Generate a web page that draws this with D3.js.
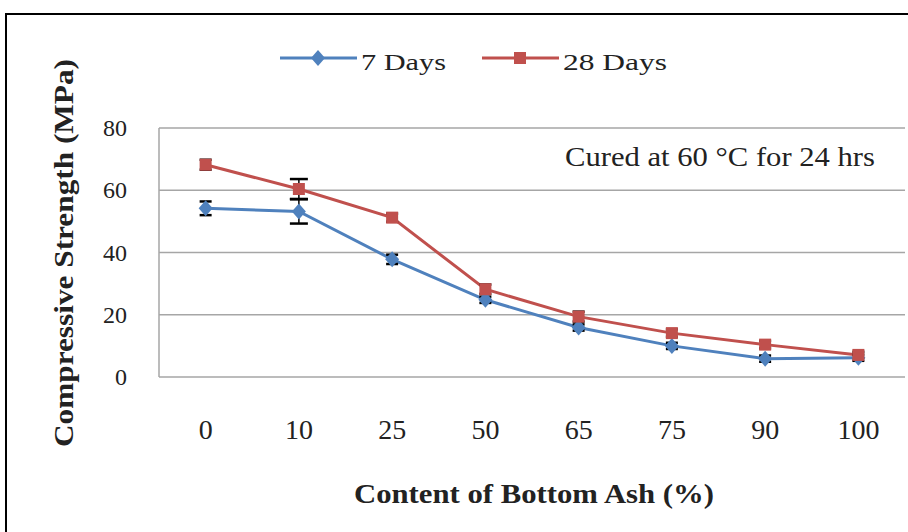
<!DOCTYPE html>
<html><head><meta charset="utf-8">
<script src="https://cdn.jsdelivr.net/npm/d3@7"></script>
<style>body{margin:0;background:#fff}svg{display:block}text{font-family:"Liberation Serif","Times New Roman",serif}</style>
</head><body><svg id="c" width="908" height="532"></svg>
<script>
const categories = ["0","10","25","50","65","75","90","100"];
const days7 = [54.2, 53.2, 37.8, 24.8, 15.9, 10.0, 5.9, 6.2];
const days28 = [68.2, 60.4, 51.2, 28.2, 19.4, 14.1, 10.4, 7.1];
const err7 = [2.2, 3.9, 1.5, 1.0, 1.0, 1.0, 1.0, 1.0];
const err28 = [1.6, 3.2, 1.3, 1.5, 1.6, 1.2, 1.2, 1.0];
const yTicks = [0, 20, 40, 60, 80];
const seriesNames = ["7 Days", "28 Days"];
const colors = ["#4F81BD", "#C0504D"];

const svg = d3.select("#c");
const L = 159, R = 905, T = 128, B = 377;
// outer frame
svg.append("rect").attr("x", 6).attr("y", 14).attr("width", 920).attr("height", 540)
  .attr("fill", "none").attr("stroke", "#000").attr("stroke-width", 2);

const x = d3.scaleBand().domain(categories).range([L, R]);
const y = d3.scaleLinear().domain([0, 80]).range([B, T]);

// gridlines
svg.append("g").selectAll("line").data(yTicks).join("line")
  .attr("x1", L).attr("x2", R).attr("y1", d => y(d)).attr("y2", d => y(d))
  .attr("stroke", "#a6a6a6").attr("stroke-width", 1.5);
svg.append("line").attr("x1", L).attr("x2", L).attr("y1", T).attr("y2", B)
  .attr("stroke", "#a6a6a6").attr("stroke-width", 1.5);

// y axis labels
const yAxis = svg.append("g").attr("transform", `translate(127,0)`)
  .call(d3.axisLeft(y).tickValues(yTicks).tickSize(0).tickPadding(0));
yAxis.select(".domain").remove();
yAxis.selectAll("text").attr("font-size", 24).attr("font-family", "Liberation Sans, Arial, sans-serif").attr("fill", "#222");

// x axis labels
const xAxis = svg.append("g").attr("transform", `translate(0,419)`)
  .call(d3.axisBottom(x).tickSize(0).tickPadding(0));
xAxis.select(".domain").remove();
xAxis.selectAll("text").attr("font-size", 28).attr("dy", "0.71em").attr("font-family", "Liberation Serif").attr("fill", "#222");

// axis titles
svg.append("text").attr("transform", "translate(73,253) rotate(-90)")
  .attr("text-anchor", "middle").attr("font-size", 27).attr("font-weight", "bold").attr("fill", "#222")
  .attr("textLength", 388).attr("lengthAdjust", "spacingAndGlyphs")
  .text("Compressive Strength (MPa)");
svg.append("text").attr("x", 534).attr("y", 503).attr("text-anchor", "middle")
  .attr("font-size", 27).attr("font-weight", "bold").attr("fill", "#222")
  .attr("textLength", 360).attr("lengthAdjust", "spacingAndGlyphs")
  .text("Content of Bottom Ash (%)");

// annotation
svg.append("text").attr("x", 565).attr("y", 166)
  .attr("font-size", 27).attr("fill", "#222")
  .attr("textLength", 310).attr("lengthAdjust", "spacingAndGlyphs")
  .text("Cured at 60 °C for 24 hrs");

const cx = d => x(d) + x.bandwidth() / 2;
const data = [days7, days28];
const errs = [err7, err28];
const line = d3.line().x((d, i) => cx(categories[i])).y(d => y(d));

function marker(g, type, color) {
  if (type === 0) {
    g.append("path").attr("d", "M0,-8L7,0L0,8L-7,0Z").attr("fill", color);
  } else {
    g.append("rect").attr("x", -6).attr("y", -6).attr("width", 12).attr("height", 12).attr("fill", color);
  }
}

data.forEach((vals, s) => {
  svg.append("path").datum(vals).attr("d", line).attr("fill", "none")
    .attr("stroke", colors[s]).attr("stroke-width", 3);
});
data.forEach((vals, s) => {
  const eg = svg.append("g");
  vals.forEach((v, i) => {
    const px = cx(categories[i]);
    const e = errs[s][i];
    const w = e > 3 ? 9 : 6;
    eg.append("line").attr("x1", px).attr("x2", px).attr("y1", y(v + e)).attr("y2", y(v - e))
      .attr("stroke", "#000").attr("stroke-width", 1.5);
    [v + e, v - e].forEach(t => eg.append("line").attr("x1", px - w).attr("x2", px + w)
      .attr("y1", y(t)).attr("y2", y(t)).attr("stroke", "#000").attr("stroke-width", 2.5));
  });
});
data.forEach((vals, s) => {
  vals.forEach((v, i) => {
    const g = svg.append("g").attr("transform", `translate(${cx(categories[i])},${y(v)})`);
    marker(g, s, colors[s]);
  });
});

// legend
const legendX = [280, 482];
const legendW = [85, 104];
seriesNames.forEach((n, s) => {
  const g = svg.append("g").attr("transform", `translate(${legendX[s]},58)`);
  g.append("line").attr("x1", 0).attr("x2", 77).attr("stroke", colors[s]).attr("stroke-width", 3);
  marker(g.append("g").attr("transform", "translate(38,0)"), s, colors[s]);
  g.append("text").attr("x", 81).attr("y", 12).attr("font-size", 23).attr("fill", "#222")
    .attr("textLength", legendW[s]).attr("lengthAdjust", "spacingAndGlyphs").text(n);
});
</script></body></html>
